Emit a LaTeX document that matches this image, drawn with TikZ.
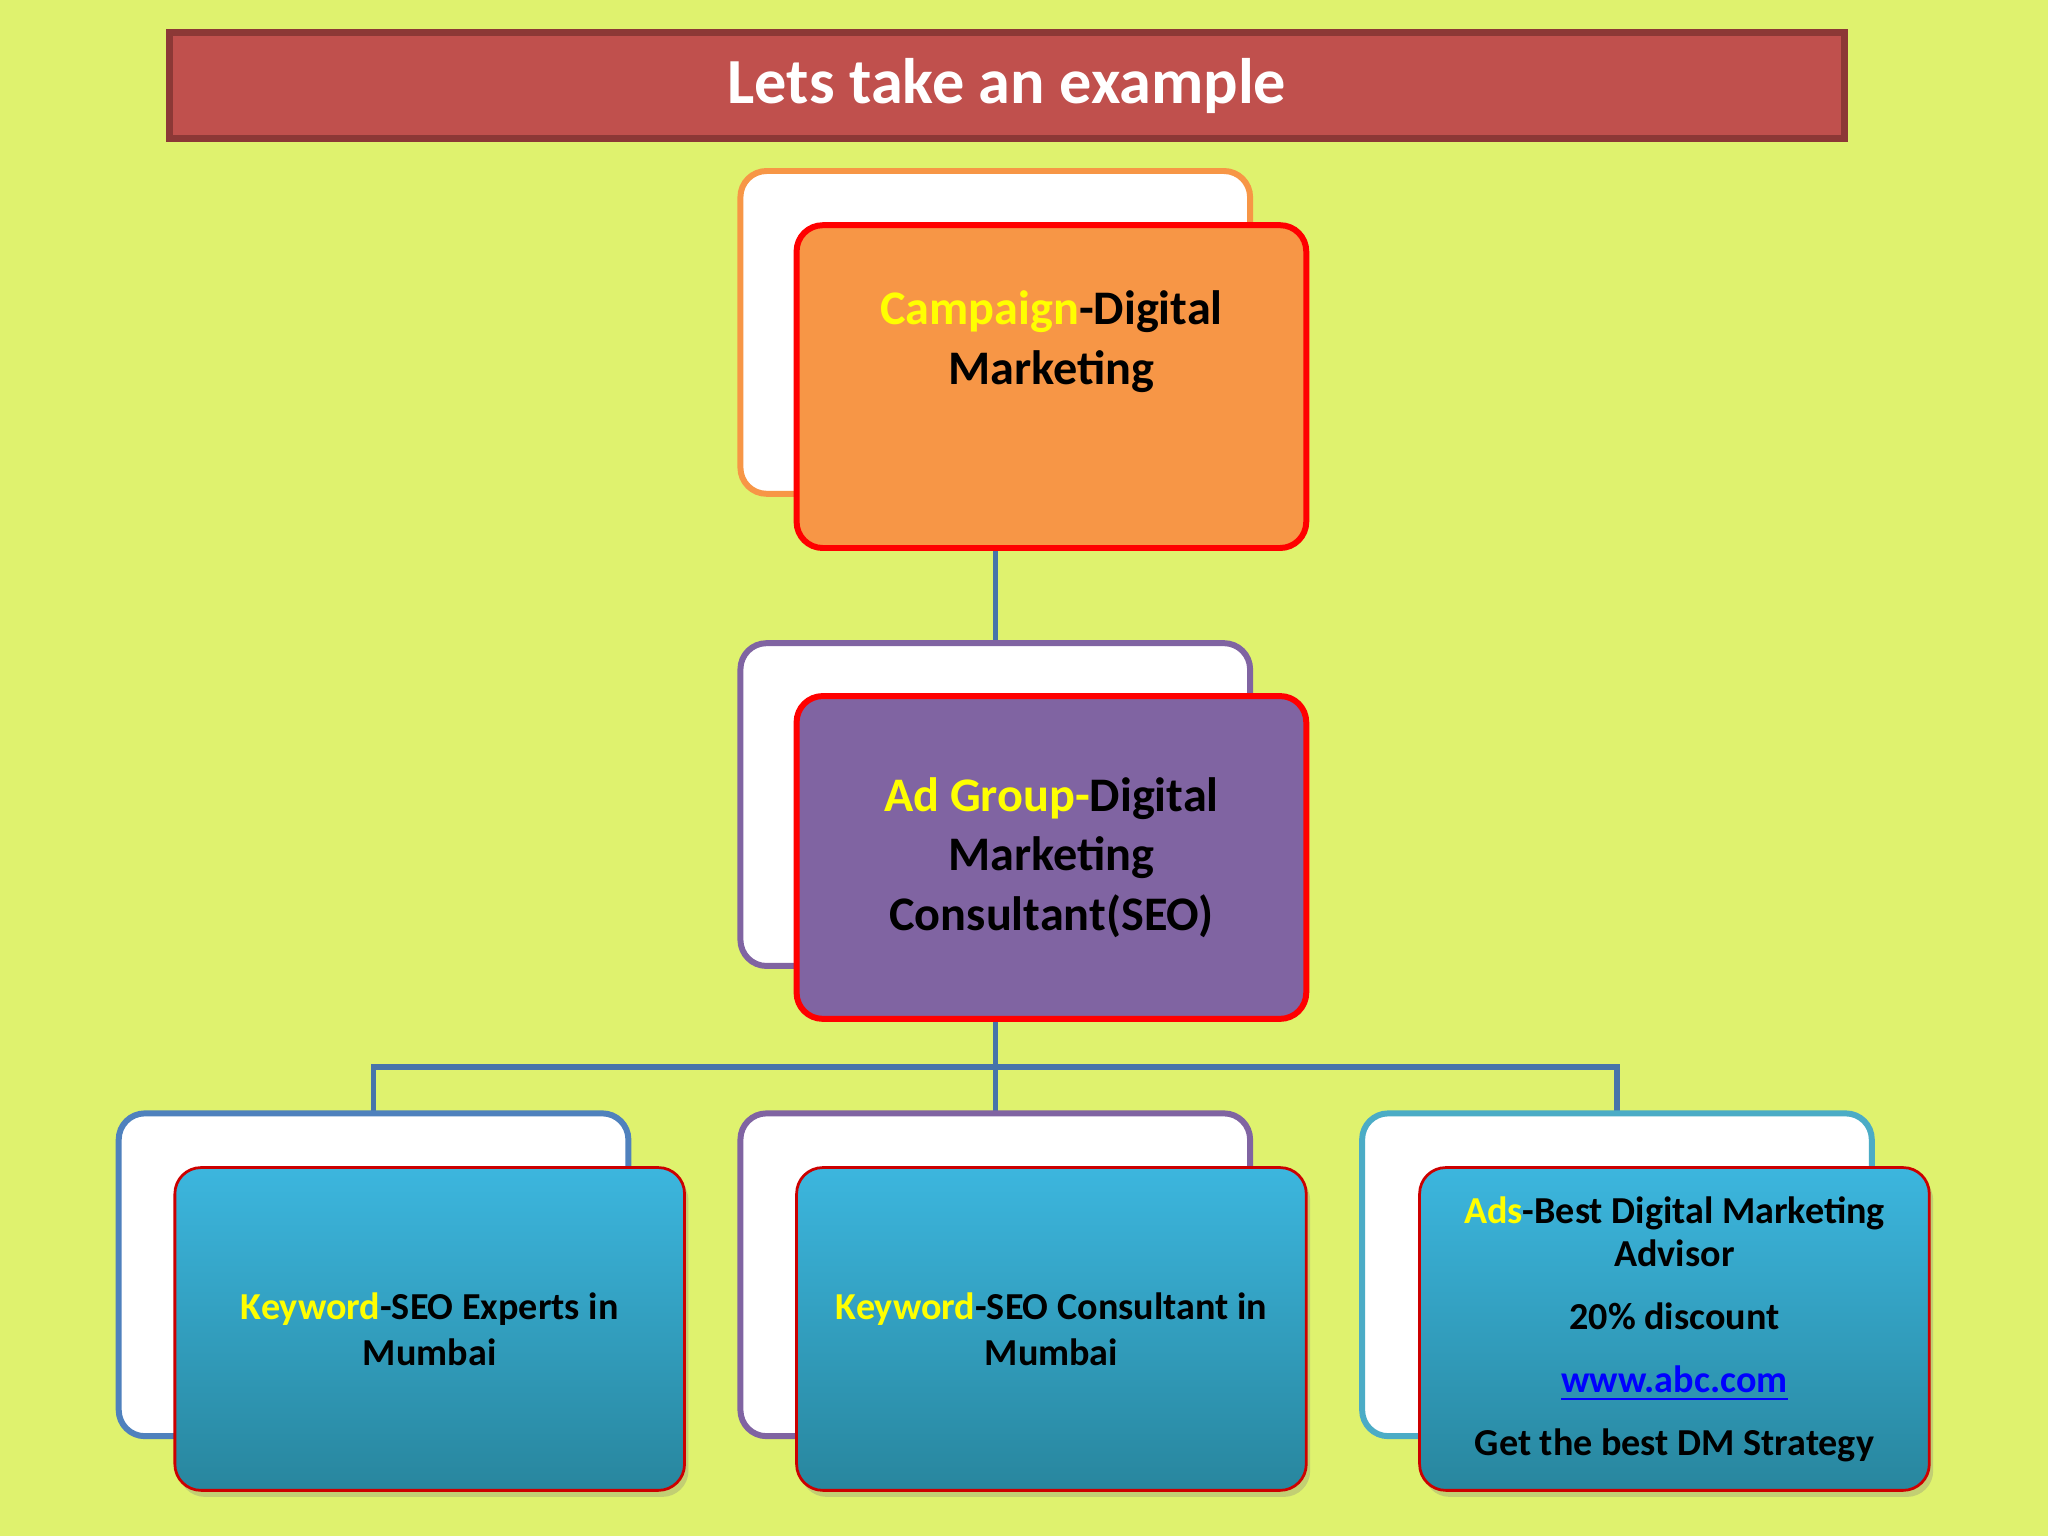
\documentclass[tikz,border=0pt]{standalone}
\usepackage{fontspec}
\setmainfont{Carlito}
\usetikzlibrary{shadows}
\definecolor{bgc}{HTML}{DFF26E}
\definecolor{titlec}{HTML}{C0504D}
\definecolor{titleb}{HTML}{8C3836}
\definecolor{orng}{HTML}{F79646}
\definecolor{purp}{HTML}{8064A2}
\definecolor{blu}{HTML}{4F81BD}
\definecolor{aqua}{HTML}{4BACC6}
\definecolor{yel}{HTML}{FFFF00}
\definecolor{linkc}{HTML}{0000FF}
\pgfdeclarelayer{bg}\pgfdeclarelayer{lines}\pgfsetlayers{bg,lines,main}
\tikzset{
 back/.style={draw=#1,line width=1.3pt,fill=white,rounded corners=0.2cm,minimum width=3.9cm,minimum height=2.47cm,inner sep=0},
 front/.style={draw=red,line width=1.3pt,fill=#1,rounded corners=0.2cm,minimum width=3.9cm,minimum height=2.47cm,align=center,font=\bfseries\fontsize{10.5}{13}\selectfont},
 lowfront/.style={draw=red!80!black,line width=0.6pt,top color=cyan!60!blue!50!white!0!cyan,rounded corners=0.2cm,minimum width=3.9cm,minimum height=2.47cm,align=center,font=\bfseries\fontsize{8.3}{10}\selectfont,top color={rgb,255:red,60;green,182;blue,222},bottom color={rgb,255:red,40;green,134;blue,158},drop shadow={shadow xshift=0.03cm,shadow yshift=-0.05cm,opacity=0.3}},
 conn/.style={draw=blu!90!black,line width=1.2pt}
}
\begin{document}
\begin{tikzpicture}[x=0.01cm,y=-0.01cm]
\begin{pgfonlayer}{bg}
\fill[bgc] (0,0) rectangle (1568,1176);
\end{pgfonlayer}
\useasboundingbox (0,0) rectangle (1568,1176);
\node[draw=titleb,line width=1.5pt,fill=titlec,minimum width=12.82cm,minimum height=0.81cm,text=white,font=\bfseries\fontsize{14}{16}\selectfont] (title) at (771,65.5) {Lets take an example};
\node[back=orng] (tb) at (762,254.5) {};
\node[front=orng] (tf) at (805,296) {\textcolor{yel}{Campaign}-Digital\\Marketing\\[0.8em]};
\node[back=purp] (mb) at (762,616) {};
\node[front=purp] (mf) at (805,656.5) {\textcolor{yel}{Ad Group-}Digital\\Marketing\\Consultant(SEO)};
\node[back=blu] (b1b) at (286,976) {};
\node[lowfront] (b1f) at (329,1017.5) {\textcolor{yel}{Keyword}-SEO Experts in\\Mumbai};
\node[back=purp] (b2b) at (762,976) {};
\node[lowfront] (b2f) at (805,1017.5) {\textcolor{yel}{Keyword}-SEO Consultant in\\Mumbai};
\node[back=aqua] (b3b) at (1238,976) {};
\node[lowfront,font=\bfseries\fontsize{8.3}{9.5}\selectfont] (b3f) at (1282,1017.5) {\textcolor{yel}{Ads}-Best Digital Marketing\\Advisor\\[0.5em]20\% discount\\[0.5em]\textcolor{linkc}{\underline{www.abc.com}}\\[0.5em]Get the best DM Strategy};
\coordinate (bus) at (762,817);
\begin{pgfonlayer}{lines}
\draw[conn] (tb.center) -- (mb.center);
\draw[conn] (mb.center) -- (b2b.center);
\draw[conn] (b1b.center) |- (bus) -| (b3b.center);
\end{pgfonlayer}
\end{tikzpicture}
\end{document}
